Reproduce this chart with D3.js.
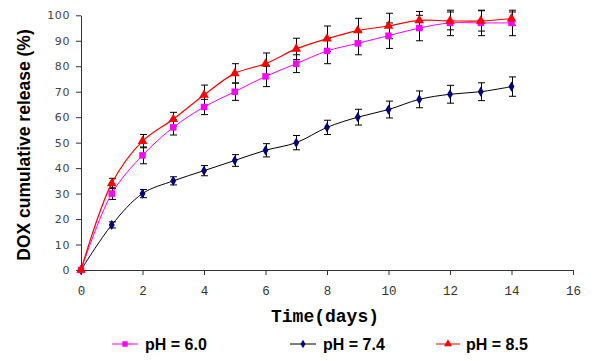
<!DOCTYPE html>
<html>
<head>
<meta charset="utf-8">
<script src="https://cdn.jsdelivr.net/npm/d3@7"></script>
<style>
  body { margin: 0; background: #fff; }
  svg { display: block; }
</style>
</head>
<body>
<svg width="600" height="361"></svg>
<script>
// data
const days = [0, 1, 2, 3, 4, 5, 6, 7, 8, 9, 10, 11, 12, 13, 14];
const ph60 = [0, 30, 45, 56, 64, 70, 76, 81, 86, 89, 92, 95, 97, 97, 97];
const ph74 = [0, 17.7, 30, 35, 39, 43, 47, 50, 56, 60, 63, 67, 69, 70, 72];
const ph85 = [0, 34, 50.6, 59.2, 68.7, 77.2, 81, 86.8, 90.8, 94, 95.8, 98, 97.8, 97.8, 98.7];
const err60 = [0, 2.3, 3.3, 3, 3, 3.4, 4, 3.5, 5, 4.5, 5, 5, 5, 5, 5];
const err74 = [0, 1.2, 1.6, 1.6, 2, 2.3, 2.6, 2.8, 2.8, 3.1, 3.3, 3.3, 3.5, 3.5, 3.8];
const err85 = [0, 2, 2.6, 2.7, 3.9, 3.8, 4.2, 4.2, 5, 4.8, 5, 3.5, 3.5, 4, 2.6];
const xTicks = [0, 2, 4, 6, 8, 10, 12, 14, 16];
const yTicks = [0, 10, 20, 30, 40, 50, 60, 70, 80, 90, 100];

const svg = d3.select("svg");

const x = d3.scaleLinear().domain([0, 16]).range([81, 573]);
const y = d3.scaleLinear().domain([0, 100]).range([270, 15.3]);

// y axis
const yAxis = svg.append("g")
    .attr("transform", `translate(${x(0)},0)`)
    .call(d3.axisLeft(y).tickValues(yTicks).tickSize(5).tickSizeOuter(0).tickPadding(6));
yAxis.select(".domain").attr("stroke", "#333");
yAxis.selectAll(".tick line").attr("stroke", "#333");
yAxis.selectAll("text")
    .attr("fill", "#444")
    .style("font-family", "DejaVu Sans")
    .style("font-size", "11px")
    .style("letter-spacing", "0.6px");

// x axis
const xAxis = svg.append("g")
    .attr("transform", `translate(0,${y(0)})`)
    .call(d3.axisBottom(x).tickValues(xTicks).tickSize(5).tickSizeOuter(0).tickPadding(11));
xAxis.select(".domain").attr("stroke", "#333");
xAxis.selectAll(".tick line").attr("stroke", "#333");
xAxis.selectAll("text")
    .attr("fill", "#333")
    .style("font-family", "Liberation Mono")
    .style("font-size", "12.5px");

// axis titles
svg.append("text")
    .attr("x", 325)
    .attr("y", 322)
    .attr("text-anchor", "middle")
    .style("font-family", "Liberation Mono")
    .style("font-weight", "bold")
    .style("font-size", "18px")
    .text("Time(days)");

svg.append("text")
    .attr("transform", "translate(30,145) rotate(-90)")
    .attr("text-anchor", "middle")
    .style("font-family", "Liberation Sans")
    .style("font-weight", "bold")
    .style("font-size", "17.5px")
    .text("DOX cumulative release (%)");

const series = [
    { name: "pH = 7.4", vals: ph74, err: err74, line: "#000", mark: "#000080", shape: d3.symbolDiamond, size: 30, lw: 1 },
    { name: "pH = 6.0", vals: ph60, err: err60, line: "#ff00ff", mark: "#ff00ff", shape: d3.symbolSquare, size: 42, lw: 1 },
    { name: "pH = 8.5", vals: ph85, err: err85, line: "#ff0000", mark: "#ff0000", shape: d3.symbolTriangle, size: 40, lw: 1.2 }
];

const line = d3.line()
    .x((d, i) => x(days[i]))
    .y(d => y(d))
    .curve(d3.curveCatmullRom.alpha(0.5));

// error bars
series.forEach(s => {
    const g = svg.append("g").attr("stroke", "#000").attr("stroke-width", 1);
    s.vals.forEach((v, i) => {
        if (!s.err[i]) return;
        const cx = Math.round(x(days[i])) + 0.5;
        const top = y(v + s.err[i]), bot = y(v - s.err[i]);
        g.append("line").attr("x1", cx).attr("x2", cx).attr("y1", top).attr("y2", bot);
        g.append("line").attr("x1", cx - 3.5).attr("x2", cx + 3.5).attr("y1", top).attr("y2", top);
        g.append("line").attr("x1", cx - 3.5).attr("x2", cx + 3.5).attr("y1", bot).attr("y2", bot);
    });
});

// lines and markers
series.forEach(s => {
    svg.append("path")
        .datum(s.vals)
        .attr("fill", "none")
        .attr("stroke", s.line)
        .attr("stroke-width", s.lw)
        .attr("d", line);
    svg.append("g").selectAll("path")
        .data(s.vals)
        .join("path")
        .attr("transform", (d, i) => `translate(${x(days[i])},${y(d)})`)
        .attr("d", d3.symbol().type(s.shape).size(s.size))
        .attr("fill", s.mark);
});

// legend
const legendPos = [
    { s: series[1], x0: 112, x1: 138, tx: 145 },
    { s: series[0], x0: 290, x1: 316, tx: 323 },
    { s: series[2], x0: 436, x1: 460, tx: 466 }
];
legendPos.forEach(p => {
    const ly = 344;
    svg.append("line")
        .attr("x1", p.x0).attr("x2", p.x1)
        .attr("y1", ly).attr("y2", ly)
        .attr("stroke", p.s.line)
        .attr("stroke-width", 1);
    svg.append("path")
        .attr("transform", `translate(${(p.x0 + p.x1) / 2},${ly})`)
        .attr("d", d3.symbol().type(p.s.shape).size(p.s.size * 0.7))
        .attr("fill", p.s.mark);
    svg.append("text")
        .attr("x", p.tx)
        .attr("y", 350)
        .style("font-family", "Liberation Sans")
        .style("font-weight", "bold")
        .style("font-size", "16px")
        .text(p.s.name);
});
</script>
</body>
</html>
